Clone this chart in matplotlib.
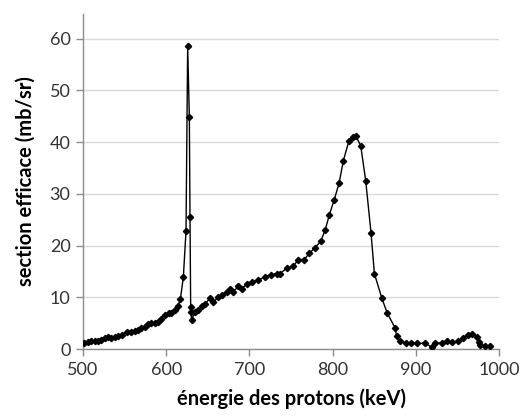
import numpy as np
import matplotlib.pyplot as plt

# energy (keV) and cross-section (mb/sr)
energie = [501, 506, 510, 514, 518, 522, 526, 530, 534, 538, 542, 547, 553, 558,
           562, 566, 570, 574, 578, 582, 586, 590, 594, 599, 603, 606, 610, 614,
           617, 620.6, 623.8, 625.8, 627.8, 628.6, 629.4, 629.6, 630.6, 634.6,
           638.6, 642.7, 646.6, 652.6, 656.6, 662.6, 666.7, 672.7, 676.7, 680.7,
           686.7, 690.7, 696.8, 702.8, 710.7, 718.8, 726, 732.8, 737, 744.8,
           752.8, 758.8, 766, 772, 778.8, 785.7, 791.2, 796, 802, 807.7, 812.9,
           819.7, 824, 827.8, 833.8, 839.8, 846.2, 850.2, 859, 865.8, 875, 877,
           881, 888, 894, 901, 911, 919, 923, 931, 937, 943, 951, 957, 963, 968,
           973, 976, 977, 983, 989]
section = [1.1, 1.4, 1.55, 1.55, 1.55, 1.75, 2.05, 2.25, 2.05, 2.25, 2.6, 2.8, 3.2,
           3.35, 3.5, 3.7, 4.0, 4.3, 4.8, 5.0, 5.1, 5.3, 5.9, 6.6, 6.9, 6.9, 7.5,
           8.3, 9.6, 13.9, 22.8, 58.5, 44.9, 25.6, 8.2, 7.2, 5.7, 7.2, 7.5, 8.3,
           8.7, 9.8, 9.1, 10.0, 10.4, 11.1, 11.7, 11.1, 12.1, 11.7, 12.5, 13.0,
           13.3, 14.0, 14.3, 14.6, 14.6, 15.6, 16.0, 17.3, 17.3, 18.5, 19.6, 20.8,
           23.1, 25.9, 28.9, 32.0, 36.4, 40.3, 40.9, 41.2, 39.3, 32.5, 22.4, 14.6,
           9.9, 6.9, 4.1, 2.5, 1.5, 1.2, 1.2, 1.1, 1.1, 0.4, 1.1, 1.2, 1.6, 1.4,
           1.5, 2.1, 2.7, 3.0, 2.4, 1.4, 0.8, 0.6, 0.6]

x_ticks = [500, 600, 700, 800, 900, 1000]
y_ticks = [0, 10, 20, 30, 40, 50, 60]

plt.rcParams['font.family'] = ['Lato', 'DejaVu Sans']

fig = plt.figure(figsize=(5.27, 4.19), dpi=100)
ax = fig.add_axes([0.1575, 0.167, 0.7894, 0.80])

ax.plot(energie, section, color='black', linewidth=1.0,
        marker='D', markersize=3.2, markerfacecolor='black',
        markeredgecolor='black', zorder=3)

ax.set_xlim(500, 1000)
ax.set_ylim(0, 64.8)
ax.set_xticks(x_ticks)
ax.set_yticks(y_ticks)

ax.grid(axis='y', color='#d9d9d9', linewidth=1.0)
ax.set_axisbelow(True)
for s in ['top', 'right']:
    ax.spines[s].set_visible(False)
for s in ['left', 'bottom']:
    ax.spines[s].set_color('#8c8c8c')
    ax.spines[s].set_linewidth(1.0)
ax.tick_params(axis='both', direction='out', length=5, width=1,
               color='#8c8c8c', labelsize=13, labelcolor='#333333', pad=4)

ax.set_xlabel('énergie des protons (keV)', fontsize=14.5, fontweight='bold',
              labelpad=8)
ax.set_ylabel('section efficace (mb/sr)', fontsize=14.5, fontweight='bold',
              labelpad=10)

fig.savefig('out.png', dpi=100)
